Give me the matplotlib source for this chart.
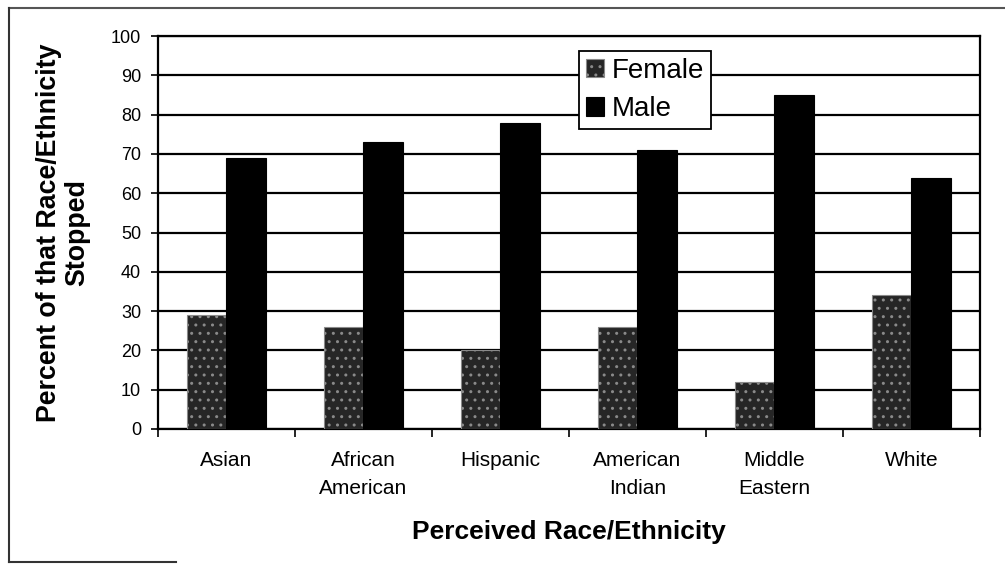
import matplotlib
matplotlib.use("Agg")
import matplotlib.pyplot as plt
import numpy as np
from matplotlib.lines import Line2D

categories = ["Asian", "African\nAmerican", "Hispanic", "American\nIndian", "Middle\nEastern", "White"]
female = [29, 26, 20, 26, 12, 34]
male = [69, 73, 78, 71, 85, 64]
yticks = list(range(0, 101, 10))

plt.rcParams['font.family'] = ['Liberation Sans', 'DejaVu Sans']
plt.rcParams['hatch.color'] = '#9a9a9a'
plt.rcParams['hatch.linewidth'] = 1.0

fig = plt.figure(figsize=(10.05, 5.64), dpi=100)
ax = fig.add_axes([0.157, 0.2394, 0.818, 0.6966])

x = np.arange(len(categories))
w = 0.29
ax.bar(x - w / 2, female, width=w, color='#262626', edgecolor='#8a8a8a',
       hatch='..', linewidth=0.8, label='Female', zorder=3)
ax.bar(x + w / 2, male, width=w, color='black', edgecolor='black',
       linewidth=0.8, label='Male', zorder=3)

ax.set_xlim(-0.5, len(categories) - 0.5)
ax.set_ylim(0, 100)
ax.set_yticks(yticks)
ax.set_yticklabels([str(t) for t in yticks], fontsize=13)
ax.yaxis.grid(True, color='black', linewidth=1.6, zorder=0)
ax.set_axisbelow(True)

ax.set_xticks(x)
ax.set_xticklabels(categories, fontsize=15, linespacing=1.6)
ax.tick_params(axis='x', which='major', length=0, pad=16)
ax.set_xticks(np.arange(-0.5, len(categories) + 0.5, 1), minor=True)
ax.tick_params(axis='x', which='minor', length=6, width=1.2, direction='out')
ax.tick_params(axis='y', length=5, width=1.2, direction='out', pad=7)

for s in ax.spines.values():
    s.set_linewidth(1.6)
    s.set_color('black')

ax.set_ylabel("Percent of that Race/Ethnicity\nStopped", fontsize=19.3,
              fontweight='bold', labelpad=15, linespacing=1.1)
ax.set_xlabel("Perceived Race/Ethnicity", fontsize=19, fontweight='bold', labelpad=16)

leg = ax.legend(loc='upper left', bbox_to_anchor=(0.512, 0.962), fontsize=20,
                frameon=True, fancybox=False, edgecolor='black',
                handlelength=0.65, handleheight=0.65, handletextpad=0.3,
                borderpad=0.25, labelspacing=0.45, borderaxespad=0)
leg.get_frame().set_linewidth(1.3)
leg.get_frame().set_alpha(1)

# outer page frame
fig.add_artist(Line2D([0.009, 1.0], [0.986, 0.986], transform=fig.transFigure,
                      color='#555555', linewidth=1.5))
fig.add_artist(Line2D([0.009, 0.009], [0.004, 0.986], transform=fig.transFigure,
                      color='#333333', linewidth=1.5))
fig.add_artist(Line2D([0.009, 0.175], [0.004, 0.004], transform=fig.transFigure,
                      color='#333333', linewidth=1.5))

fig.savefig("out.png", dpi=100)
